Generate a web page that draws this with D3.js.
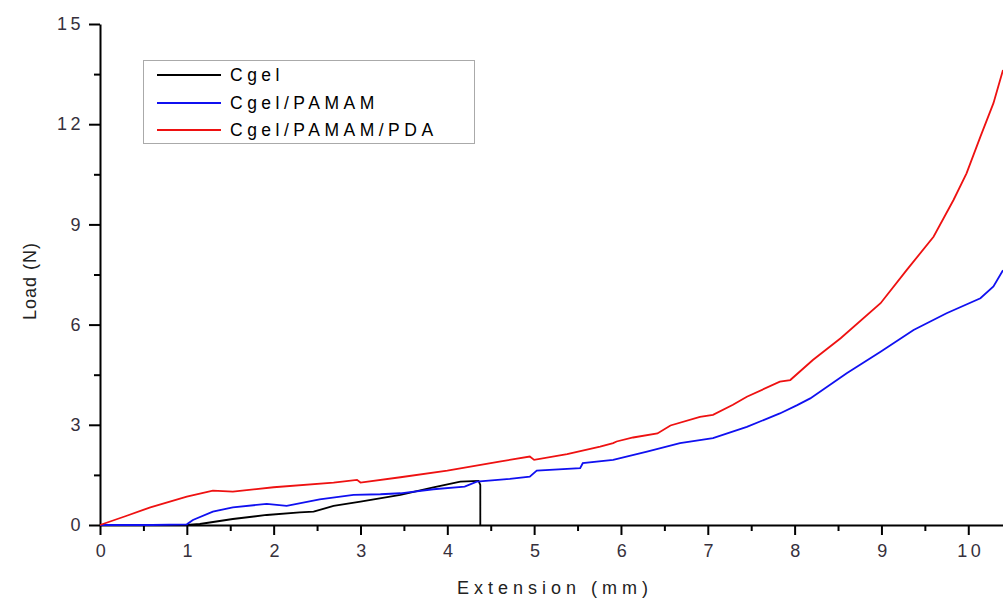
<!DOCTYPE html>
<html>
<head>
<meta charset="utf-8">
<script src="https://cdn.jsdelivr.net/npm/d3@7"></script>
<style>
  body { margin: 0; background: #fff; }
  svg { display: block; font-family: "Liberation Sans", Arial, sans-serif; }
</style>
</head>
<body>
<div id="chart"></div>
<script>
// values
const seriesNames = ["Cgel", "Cgel/PAMAM", "Cgel/PAMAM/PDA"];
const seriesColors = ["#000000", "#1010f0", "#ee1111"];

const cgelX = [0, 0.5, 1.0, 1.15, 1.53, 1.92, 2.3, 2.46, 2.69, 3.0, 3.46, 3.84, 4.15, 4.36, 4.38, 4.38];
const cgelY = [0, 0, 0, 0.03, 0.18, 0.3, 0.38, 0.4, 0.57, 0.7, 0.9, 1.13, 1.3, 1.32, 1.2, 0];

const pamamX = [0, 0.35, 0.6, 1.0, 1.07, 1.3, 1.53, 1.92, 2.15, 2.53, 2.92, 3.23, 3.46, 3.84, 4.2, 4.34, 4.72, 4.95, 5.03, 5.53, 5.56, 5.91, 6.3, 6.68, 7.06, 7.45, 7.83, 8.03, 8.18, 8.6, 8.99, 9.37, 9.75, 10.14, 10.29, 10.4];
const pamamY = [0, 0, 0, 0.02, 0.15, 0.4, 0.53, 0.63, 0.57, 0.77, 0.9, 0.92, 0.95, 1.07, 1.15, 1.3, 1.38, 1.45, 1.63, 1.7, 1.85, 1.95, 2.2, 2.45, 2.6, 2.94, 3.34, 3.59, 3.79, 4.54, 5.19, 5.84, 6.34, 6.79, 7.14, 7.63];

const pdaX = [0, 0.3, 0.58, 1.0, 1.3, 1.53, 2.0, 2.69, 2.96, 3.0, 3.46, 4.0, 4.6, 4.95, 5.0, 5.38, 5.76, 5.91, 5.95, 6.14, 6.42, 6.57, 6.91, 7.06, 7.29, 7.45, 7.83, 7.95, 8.21, 8.53, 8.99, 9.29, 9.6, 9.83, 9.98, 10.14, 10.29, 10.4];
const pdaY = [0, 0.27, 0.53, 0.85, 1.03, 1.0, 1.13, 1.27, 1.35, 1.27, 1.43, 1.63, 1.9, 2.05, 1.95, 2.12, 2.35, 2.45, 2.5, 2.62, 2.74, 2.98, 3.24, 3.3, 3.6, 3.84, 4.29, 4.34, 4.94, 5.59, 6.64, 7.63, 8.63, 9.73, 10.53, 11.63, 12.63, 13.62];

const xTicks = [0, 1, 2, 3, 4, 5, 6, 7, 8, 9, 10];
const yTicks = [0, 3, 6, 9, 12, 15];

const width = 1003, height = 599;

const svg = d3.select("#chart").append("svg")
  .attr("width", width)
  .attr("height", height);

const x = d3.scaleLinear().domain([0, 10.4]).range([100, 1003]);
const y = d3.scaleLinear().domain([0, 15]).range([525, 24]);

// minor ticks first, majors on top
svg.append("g")
  .attr("transform", "translate(0,525)")
  .call(d3.axisBottom(x).tickValues(d3.range(0.5, 10.4, 1)).tickSize(6).tickFormat(""))
  .call(g => g.select(".domain").remove())
  .selectAll("line").attr("stroke-width", 2);
svg.append("g")
  .attr("transform", "translate(100,0)")
  .call(d3.axisLeft(y).tickValues(d3.range(1.5, 15, 3)).tickSize(6).tickFormat(""))
  .call(g => g.select(".domain").remove())
  .selectAll("line").attr("stroke-width", 2);

const xAxis = svg.append("g")
  .attr("transform", "translate(0,525)")
  .call(d3.axisBottom(x).tickValues(xTicks).tickSize(10).tickSizeOuter(0).tickPadding(9));
const yAxis = svg.append("g")
  .attr("transform", "translate(100,0)")
  .call(d3.axisLeft(y).tickValues(yTicks).tickSize(11).tickSizeOuter(0).tickPadding(8));

[xAxis, yAxis].forEach(a => {
  a.select(".domain").attr("stroke-width", 2);
  a.selectAll("line").attr("stroke-width", 2);
  a.selectAll("text")
    .attr("fill", "#36303c")
    .style("font-size", "18px")
    .style("letter-spacing", "3.5px");
});
xAxis.selectAll("text").attr("dx", "2px");
yAxis.selectAll("text").attr("dx", "3px");

// curves
const line = d3.line().x(d => x(d[0])).y(d => y(d[1]));
const series = [
  d3.zip(cgelX, cgelY),
  d3.zip(pamamX, pamamY),
  d3.zip(pdaX, pdaY)
];
svg.append("g").selectAll("path")
  .data(series)
  .enter().append("path")
  .attr("d", line)
  .attr("fill", "none")
  .attr("stroke", (d, i) => seriesColors[i])
  .attr("stroke-width", 1.8);

// axis titles
svg.append("text")
  .attr("x", 555).attr("y", 594)
  .attr("text-anchor", "middle")
  .attr("fill", "#222")
  .style("font-size", "18px")
  .style("letter-spacing", "5px")
  .text("Extension (mm)");
svg.append("text")
  .attr("transform", "translate(36,281) rotate(-90)")
  .attr("text-anchor", "middle")
  .attr("fill", "#222")
  .style("font-size", "18px")
  .style("letter-spacing", "1px")
  .text("Load (N)");

// legend
const legend = svg.append("g");
legend.append("rect")
  .attr("x", 143.5).attr("y", 60.5)
  .attr("width", 331).attr("height", 83)
  .attr("fill", "#fff")
  .attr("stroke", "#aaa");
const rows = legend.selectAll("g.row")
  .data(seriesNames)
  .enter().append("g")
  .attr("class", "row")
  .attr("transform", (d, i) => "translate(0," + [75, 103, 130][i] + ")");
rows.append("line")
  .attr("x1", 157).attr("x2", 221)
  .attr("stroke", (d, i) => seriesColors[i])
  .attr("stroke-width", 1.8);
rows.append("text")
  .attr("x", 230).attr("y", 6)
  .attr("fill", "#000")
  .style("font-size", "17.5px")
  .style("letter-spacing", "4.5px")
  .text(d => d);
</script>
</body>
</html>
